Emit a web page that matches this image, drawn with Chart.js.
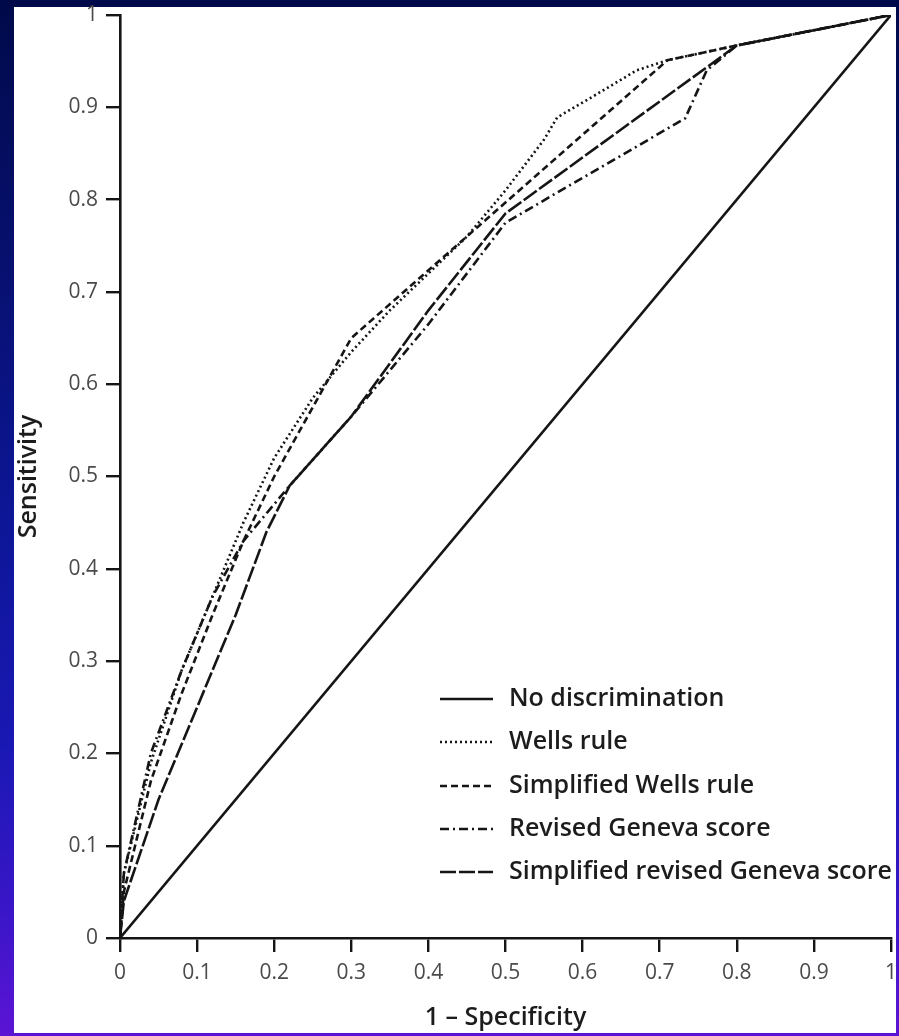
<!DOCTYPE html>
<html>
<head>
<meta charset="utf-8">
<script src="https://cdn.jsdelivr.net/npm/chart.js@4.4.1/dist/chart.umd.min.js"></script>
<style>
  html, body { margin: 0; padding: 0; }
  body {
    width: 899px; height: 1036px; overflow: hidden; position: relative;
    background: linear-gradient(to bottom, #000a4a 0%, #07106e 25%, #0d1696 50%, #1a18b4 72%, #3a16c8 88%, #5c14d4 100%);
  }
  #panel { position: absolute; left: 14px; top: 7px; width: 882px; height: 1026px; background: #fff; }
  #c { position: absolute; left: 14px; top: 0px; display: block; }
</style>
</head>
<body>
<div id="panel"></div>
<canvas id="c" width="892" height="1033"></canvas>
<script>
// ---- data ----
const tickLabels = ["0", "0.1", "0.2", "0.3", "0.4", "0.5", "0.6", "0.7", "0.8", "0.9", "1"];

const noDiscX = [0, 1];
const noDiscY = [0, 1];

const wellsX = [0, 0.005, 0.04, 0.08, 0.12, 0.16, 0.2, 0.25, 0.3, 0.35, 0.4, 0.45, 0.5, 0.55, 0.567, 0.62, 0.67, 0.71, 0.8, 1];
const wellsY = [0, 0.07, 0.19, 0.29, 0.37, 0.45, 0.52, 0.585, 0.635, 0.68, 0.72, 0.76, 0.81, 0.865, 0.889, 0.915, 0.94, 0.951, 0.967, 1];

const simpWellsX = [0, 0.005, 0.04, 0.08, 0.12, 0.16, 0.2, 0.25, 0.3, 0.71, 0.8, 1];
const simpWellsY = [0, 0.05, 0.17, 0.265, 0.35, 0.43, 0.5, 0.575, 0.65, 0.951, 0.967, 1];

const genevaX = [0, 0.005, 0.04, 0.08, 0.12, 0.16, 0.22, 0.3, 0.4, 0.5, 0.733, 0.761, 0.8, 1];
const genevaY = [0, 0.07, 0.2, 0.29, 0.37, 0.43, 0.49, 0.565, 0.665, 0.775, 0.888, 0.94, 0.967, 1];

const simpGenevaX = [0, 0.005, 0.05, 0.1, 0.15, 0.19, 0.22, 0.3, 0.4, 0.5, 0.8, 1];
const simpGenevaY = [0, 0.04, 0.15, 0.25, 0.35, 0.44, 0.49, 0.565, 0.68, 0.785, 0.967, 1];

const seriesNames = ["No discrimination", "Wells rule", "Simplified Wells rule", "Revised Geneva score", "Simplified revised Geneva score"];

function pts(xs, ys) { return xs.map((x, i) => ({ x: x, y: ys[i] })); }

const INK = '#151515';
const styles = [
  { dash: [], width: 2.6 },
  { dash: [2, 3], width: 2.6 },
  { dash: [7, 4], width: 2.6 },
  { dash: [9, 4, 2, 4], width: 2.6 },
  { dash: [16, 3], width: 2.6 }
];
const seriesData = [
  pts(noDiscX, noDiscY),
  pts(wellsX, wellsY),
  pts(simpWellsX, simpWellsY),
  pts(genevaX, genevaY),
  pts(simpGenevaX, simpGenevaY)
];

const datasets = seriesData.map((d, i) => ({
  label: seriesNames[i],
  data: d,
  borderColor: INK,
  borderWidth: styles[i].width,
  borderDash: styles[i].dash,
  pointRadius: 0,
  tension: 0,
  fill: false
}));

const legendPlugin = {
  id: 'customLegend',
  afterDraw(chart) {
    const ctx = chart.ctx;
    const rowsY = [699, 742, 786, 829, 872];
    ctx.save();
    chart.data.datasets.forEach((ds, i) => {
      const y = rowsY[i];
      ctx.beginPath();
      ctx.setLineDash(ds.borderDash || []);
      ctx.lineWidth = 2.6;
      ctx.strokeStyle = INK;
      ctx.moveTo(426, y);
      ctx.lineTo(479, y);
      ctx.stroke();
      ctx.setLineDash([]);
      ctx.fillStyle = '#1c1c1c';
      ctx.font = '600 25px "Open Sans"';
      ctx.textBaseline = 'middle';
      ctx.textAlign = 'left';
      ctx.fillText(ds.label, 495, y);
    });
    ctx.restore();
  }
};

new Chart(document.getElementById('c'), {
  type: 'line',
  data: { datasets: datasets },
  options: {
    responsive: false,
    animation: false,
    layout: { padding: { top: 15, right: 15, left: 0, bottom: 0 } },
    plugins: { legend: { display: false }, tooltip: { enabled: false } },
    scales: {
      x: {
        type: 'linear', min: 0, max: 1,
        afterFit(s) { s.height = 95; s.paddingLeft = 0; s.paddingRight = 0; },
        ticks: {
          stepSize: 0.1, autoSkip: false, maxRotation: 0, padding: 8,
          color: '#4a4a4a', font: { family: 'Open Sans', size: 21 },
          callback: (v, i) => tickLabels[i]
        },
        grid: { drawOnChartArea: false, drawTicks: true, tickLength: 14, color: INK, lineWidth: 2.4 },
        border: { display: true, color: INK, width: 2.6 },
        title: { display: true, text: '1 – Specificity', color: '#1c1c1c', padding: 0, font: { family: 'Open Sans', size: 25, weight: '600' } }
      },
      y: {
        type: 'linear', min: 0, max: 1,
        afterFit(s) { s.width = 106; s.paddingTop = 0; s.paddingBottom = 0; },
        ticks: {
          stepSize: 0.1, autoSkip: false, padding: 8,
          color: '#4a4a4a', font: { family: 'Open Sans', size: 21 },
          callback: (v, i) => tickLabels[i]
        },
        grid: { drawOnChartArea: false, drawTicks: true, tickLength: 14, color: INK, lineWidth: 2.4 },
        border: { display: true, color: INK, width: 2.6 },
        title: { display: true, text: 'Sensitivity', color: '#1c1c1c', padding: 0, font: { family: 'Open Sans', size: 25, weight: '600' } }
      }
    }
  },
  plugins: [legendPlugin]
});
</script>
</body>
</html>
